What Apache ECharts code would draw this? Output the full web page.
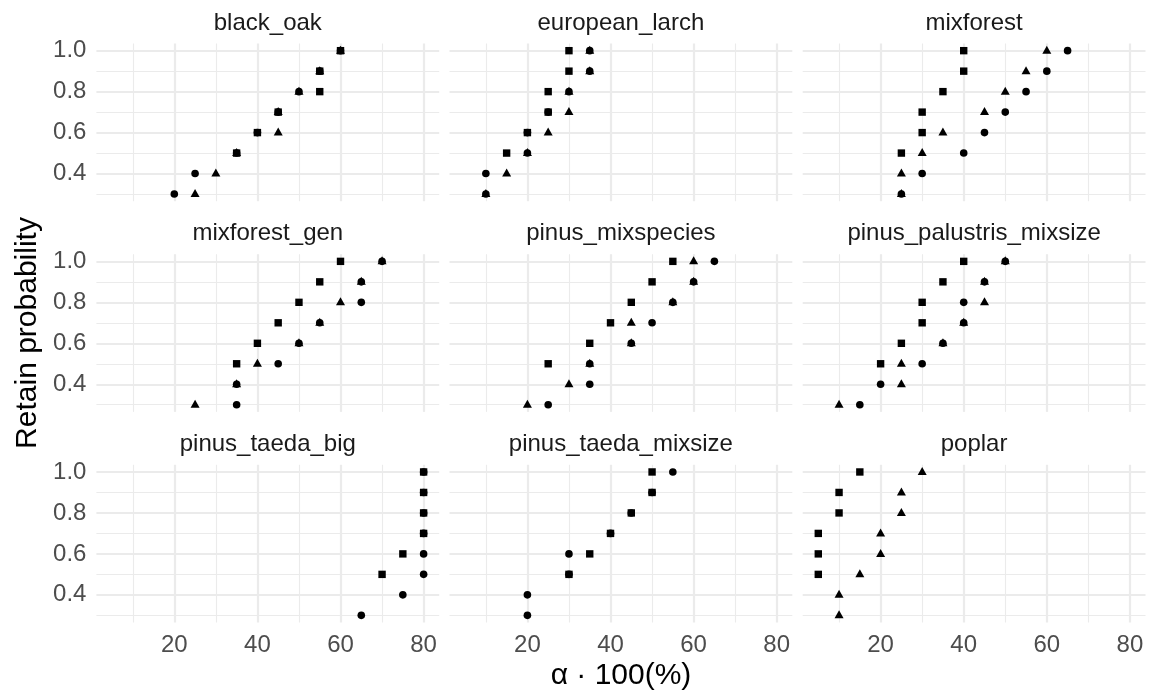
<!DOCTYPE html>
<html><head><meta charset="utf-8">
<script src="https://cdn.jsdelivr.net/npm/echarts@6/dist/echarts.min.js"></script>
<style>html,body{margin:0;padding:0;background:#fff}#chart{width:1149px;height:696px}</style>
</head><body><div id="chart"></div>
<script>
// ---------- data ----------
const panels = ['black_oak','european_larch','mixforest','mixforest_gen','pinus_mixspecies','pinus_palustris_mixsize','pinus_taeda_big','pinus_taeda_mixsize','poplar'];
const retainProb = [0.3,0.4,0.5,0.6,0.7,0.8,0.9,1.0];
// alpha*100 per retain probability, one row per panel
const circleAlpha = [
  [20,25,35,40,45,50,55,60],
  [10,10,20,20,25,30,35,35],
  [25,30,40,45,50,55,60,65],
  [35,35,45,50,55,65,65,70],
  [25,35,35,45,50,55,60,65],
  [15,20,30,35,40,40,45,50],
  [65,75,80,80,80,80,80,80],
  [20,20,30,30,40,45,50,55],
  [null,null,null,null,null,null,null,null]
];
const triangleAlpha = [
  [25,30,35,45,45,50,55,60],
  [10,15,20,25,30,30,35,35],
  [25,25,30,35,45,50,55,60],
  [25,35,40,50,55,60,65,70],
  [20,30,35,45,45,55,60,60],
  [10,25,25,35,40,45,45,50],
  [null,null,null,null,null,null,null,null],
  [null,null,null,null,null,null,null,null],
  [10,10,15,20,20,25,25,30]
];
const squareAlpha = [
  [null,null,35,40,45,55,55,60],
  [null,null,15,20,25,25,30,30],
  [null,null,25,30,30,35,40,40],
  [null,null,35,40,45,50,55,60],
  [null,null,25,35,40,45,50,55],
  [null,null,20,25,30,30,35,40],
  [null,null,70,75,80,80,80,80],
  [null,null,30,35,40,45,50,50],
  [null,null,5,5,5,10,10,15]
];
const xMajorTicks = [20,40,60,80];
const xMinorTicks = [10,30,50,70];
const yMajorTicks = [0.4,0.6,0.8,1.0];
const yMinorTicks = [0.3,0.5,0.7,0.9];
const xRange = [1.25, 83.75];
const yRange = [0.265, 1.035];

// ---------- layout ----------
const FONT = "'Liberation Sans', Arial, Helvetica, sans-serif";
const colLeft = [96.4, 449.5, 802.7];
const rowTop = [43.5, 254.2, 464.8];
const PW = 342.8, PH = 157.7;
const GRID = '#ebebeb';

const grids = [], xAxes = [], yAxes = [], series = [], titles = [];
panels.forEach((name, i) => {
  const r = Math.floor(i / 3), c = i % 3;
  grids.push({left: colLeft[c], top: rowTop[r], width: PW, height: PH});
  xAxes.push({
    gridIndex: i, type: 'value', min: xRange[0], max: xRange[1],
    axisLine: {show: false}, axisTick: {show: false}, splitLine: {show: false},
    axisLabel: {show: r === 2, customValues: xMajorTicks, fontSize: 24, color: '#4d4d4d', margin: 11, fontFamily: FONT}
  });
  yAxes.push({
    gridIndex: i, type: 'value', min: yRange[0], max: yRange[1],
    axisLine: {show: false}, axisTick: {show: false}, splitLine: {show: false},
    axisLabel: {show: c === 0, customValues: yMajorTicks, fontSize: 24, color: '#4d4d4d', margin: 10, fontFamily: FONT,
      formatter: v => v.toFixed(1)}
  });
  titles.push({
    text: name, left: colLeft[c] + PW / 2, top: rowTop[r] - 32.5, textAlign: 'center', padding: 0,
    textStyle: {fontSize: 24, fontWeight: 'normal', color: '#1a1a1a', fontFamily: FONT}
  });
  const lines = [];
  xMinorTicks.forEach(v => lines.push({xAxis: v, lineStyle: {color: GRID, width: 1.1, type: 'solid'}}));
  yMinorTicks.forEach(v => lines.push({yAxis: v, lineStyle: {color: GRID, width: 1.1, type: 'solid'}}));
  xMajorTicks.forEach(v => lines.push({xAxis: v, lineStyle: {color: GRID, width: 2.2, type: 'solid'}}));
  yMajorTicks.forEach(v => lines.push({yAxis: v, lineStyle: {color: GRID, width: 2.2, type: 'solid'}}));
  series.push({
    type: 'scatter', xAxisIndex: i, yAxisIndex: i, data: [], z: 0, silent: true,
    markLine: {silent: true, z: 0, zlevel: 0, symbol: ['none', 'none'], label: {show: false}, animation: false, data: lines}
  });
  const mk = (arr, symbol, size, z, offset) => ({
    type: 'scatter', xAxisIndex: i, yAxisIndex: i, z: z, symbol: symbol, symbolSize: size,
    symbolOffset: offset || [0, 0],
    itemStyle: {color: '#000', opacity: 1},
    data: arr[i].map((x, k) => x == null ? null : [x, retainProb[k]]).filter(d => d)
  });
  series.push(mk(circleAlpha, 'circle', 7.6, 10));
  series.push(mk(triangleAlpha, 'triangle', [9, 8], 11, [0, -1]));
  series.push(mk(squareAlpha, 'rect', 7.4, 12));
});

const chart = echarts.init(document.getElementById('chart'), null, {renderer: 'canvas'});
chart.setOption({
  animation: false,
  backgroundColor: '#fff',
  title: titles,
  grid: grids, xAxis: xAxes, yAxis: yAxes, series: series,
  graphic: [
    {type: 'text', x: 28, y: 333, rotation: Math.PI / 2,
      style: {text: 'Retain probability', fontSize: 30, fontFamily: FONT, fill: '#000', align: 'center', verticalAlign: 'middle'}},
    {type: 'text', x: 621, y: 676,
      style: {text: 'α · 100(%)', fontSize: 30, fontFamily: FONT, fill: '#000', align: 'center', verticalAlign: 'middle'}}
  ]
});
</script></body></html>
